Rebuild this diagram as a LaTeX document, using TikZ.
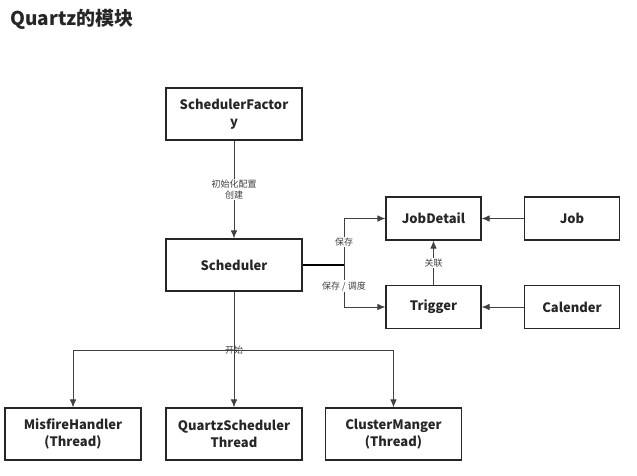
\documentclass[tikz,border=0pt]{standalone}
\usepackage{fontspec}
\setmainfont{Noto Sans CJK SC}
\usetikzlibrary{arrows.meta}

\begin{document}
\begin{tikzpicture}[x=1pt,y=-1pt,
    box/.style={draw=black!85, line width=1.2pt, minimum width=136pt, minimum height=52pt,
      align=center, inner sep=0pt, text=black!85, font=\bfseries\fontsize{13}{17}\selectfont},
    smallbox/.style={box, minimum width=95pt, minimum height=43pt},
    link/.style={draw=black!75, line width=0.8pt, -{Latex[length=8pt,width=6.5pt]}},
    plain/.style={draw=black!75, line width=0.8pt},
    lbl/.style={font=\fontsize{9}{10.5}\selectfont, text=black!75, fill=white,
      inner sep=1pt, align=center}]
  \useasboundingbox (0,0) rectangle (637,475);
  % title
  \node[anchor=west, text=black!85, font=\bfseries\fontsize{19}{22}\selectfont] (title) at (7,19) {Quartz的模块};
  % scheduler column
  \node[box] (factory) at (234,114) {SchedulerFactor\\y};
  \node[box] (sched) at (234,265) {Scheduler};
  % job side
  \node[smallbox] (jobdetail) at (433.5,218.5) {JobDetail};
  \node[smallbox] (trigger) at (433.5,307) {Trigger};
  \node[smallbox] (job) at (572,218.5) {Job};
  \node[smallbox] (calender) at (572,307) {Calender};
  % threads
  \node[box] (misfire) at (73,434) {MisfireHandler\\(Thread)};
  \node[box] (qsthread) at (234,434) {QuartzScheduler\\Thread};
  \node[box] (cluster) at (393.5,434) {ClusterManger\\(Thread)};

  \draw[link] (factory) -- node[lbl] (initlbl) {初始化配置\\创建} (sched);
  % save / schedule
  \coordinate (save) at (344,265);
  \draw[line width=1.6pt] (sched) -- (save);
  \draw[link] (save) |- node[lbl, pos=0.25] (savelbl) {保存} (jobdetail);
  \draw[link] (save) |- node[lbl, pos=0.25] (schedlbl) {保存 / 调度} (trigger);
  \draw[link] (trigger) -- node[lbl] (assoclbl) {关联} (jobdetail);
  \draw[link] (job) -- (jobdetail);
  \draw[link] (calender) -- (trigger);
  % start threads
  \coordinate (start) at (234,350);
  \draw[plain] (sched) -- (start);
  \draw[link] (start) -| (misfire);
  \draw[link] (start) -- (qsthread);
  \draw[link] (start) -| (cluster);
  \node[lbl, fill=none] (startlbl) at (start) {开始};
\end{tikzpicture}
\end{document}
